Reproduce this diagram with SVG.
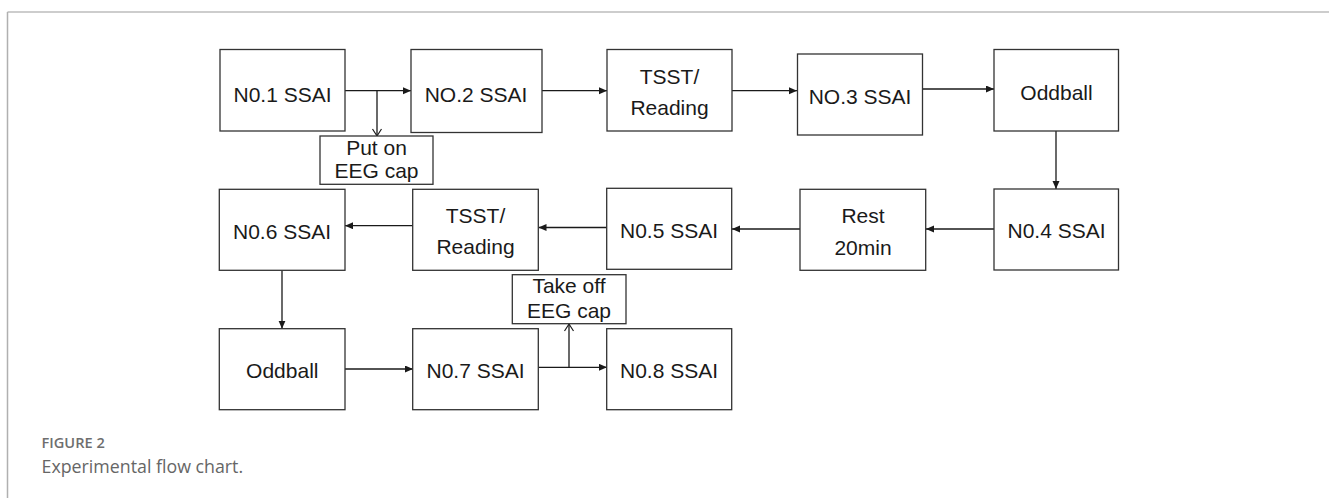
<svg xmlns="http://www.w3.org/2000/svg" width="1329" height="498" viewBox="0 0 1329 498">
<style>
.box{fill:#fff;stroke:#333;stroke-width:1.3}
.t{font-family:"Liberation Sans",Arial,sans-serif;font-size:21px;fill:#1a1a1a;text-anchor:middle}
.c{fill:none;stroke:#1a1a1a;stroke-width:1.3}
.cap1{font-family:"Open Sans",Lato,sans-serif;font-size:14.6px;font-weight:600;fill:#6e6e6e}
.cap2{font-family:"Open Sans",Lato,sans-serif;font-size:17.8px;fill:#666}
</style>
<defs>
<marker id="ah" markerUnits="userSpaceOnUse" markerWidth="9" markerHeight="8" refX="8" refY="3.5" orient="auto">
<path d="M0,0 L8,3.5 L0,7 z" fill="#1a1a1a"/>
</marker>
<marker id="ao" markerUnits="userSpaceOnUse" markerWidth="10" markerHeight="12" refX="8" refY="5" orient="auto">
<path d="M1,0.5 L8,5 L1,9.5" fill="none" stroke="#1a1a1a" stroke-width="1.2"/>
</marker>
</defs>
<rect width="1329" height="498" fill="#fff"/>
<g id="frame">
<line x1="7.5" y1="12" x2="1329" y2="12" stroke="#bcbcbc" stroke-width="1.5"/>
<line x1="7.5" y1="12" x2="7.5" y2="498" stroke="#b0b0b0" stroke-width="1.5"/>
</g>
<g id="connectors">
<line class="c" x1="345" y1="90.7" x2="411" y2="90.7" marker-end="url(#ah)"/>
<line class="c" x1="377" y1="90.7" x2="377" y2="136" marker-end="url(#ao)"/>
<line class="c" x1="542" y1="90.7" x2="607" y2="90.7" marker-end="url(#ah)"/>
<line class="c" x1="732" y1="90.7" x2="797" y2="90.7" marker-end="url(#ah)"/>
<line class="c" x1="922" y1="89" x2="994" y2="89" marker-end="url(#ah)"/>
<line class="c" x1="1056" y1="131" x2="1056" y2="189" marker-end="url(#ah)"/>
<line class="c" x1="994" y1="229" x2="926" y2="229" marker-end="url(#ah)"/>
<line class="c" x1="800" y1="229" x2="732" y2="229" marker-end="url(#ah)"/>
<line class="c" x1="607" y1="227.5" x2="538.5" y2="227.5" marker-end="url(#ah)"/>
<line class="c" x1="413" y1="225.7" x2="345" y2="225.7" marker-end="url(#ah)"/>
<line class="c" x1="282" y1="270.5" x2="282" y2="328.7" marker-end="url(#ah)"/>
<line class="c" x1="345" y1="369" x2="413" y2="369" marker-end="url(#ah)"/>
<line class="c" x1="538.5" y1="367.3" x2="607" y2="367.3" marker-end="url(#ah)"/>
<line class="c" x1="569" y1="367.3" x2="569" y2="324" marker-end="url(#ao)"/>
</g>
<g id="n1"><rect class="box" x="220" y="49.5" width="125" height="81.5"/><text class="t" x="282.5" y="102">N0.1 SSAI</text></g>
<g id="n2"><rect class="box" x="411" y="49.5" width="131" height="83"/><text class="t" x="476" y="102">NO.2 SSAI</text></g>
<g id="n3"><rect class="box" x="607" y="49.5" width="125" height="81.5"/><text class="t" x="669.5" y="84.3">TSST/</text><text class="t" x="669.5" y="115">Reading</text></g>
<g id="n4"><rect class="box" x="797.5" y="54" width="125" height="81"/><text class="t" x="860" y="104">NO.3 SSAI</text></g>
<g id="n5"><rect class="box" x="994" y="49.5" width="124.5" height="81.5"/><text class="t" x="1056.5" y="100">Oddball</text></g>
<g id="n6"><rect class="box" x="994" y="189" width="124.5" height="81"/><text class="t" x="1056.5" y="237.7">N0.4 SSAI</text></g>
<g id="n7"><rect class="box" x="800" y="189.3" width="125.7" height="81"/><text class="t" x="863" y="223.3">Rest</text><text class="t" x="863" y="255">20min</text></g>
<g id="n8"><rect class="box" x="606.7" y="188.3" width="125" height="81"/><text class="t" x="669" y="238.3">N0.5 SSAI</text></g>
<g id="n9"><rect class="box" x="412.7" y="189.3" width="125.6" height="81"/><text class="t" x="475.5" y="223.3">TSST/</text><text class="t" x="475.5" y="254">Reading</text></g>
<g id="n10"><rect class="box" x="219.3" y="189.3" width="125.7" height="81"/><text class="t" x="282" y="239">N0.6 SSAI</text></g>
<g id="n11"><rect class="box" x="219.3" y="328.7" width="125.7" height="81"/><text class="t" x="282.3" y="378.3">Oddball</text></g>
<g id="n12"><rect class="box" x="412.7" y="328.7" width="125.6" height="81"/><text class="t" x="475.5" y="378.3">N0.7 SSAI</text></g>
<g id="n13"><rect class="box" x="606.7" y="328.7" width="125" height="81"/><text class="t" x="669" y="378.3">N0.8 SSAI</text></g>
<g id="putOn"><rect class="box" x="320" y="136" width="113" height="48.3"/><text class="t" x="376.5" y="155">Put on</text><text class="t" x="376.5" y="178.3">EEG cap</text></g>
<g id="takeOff"><rect class="box" x="512.3" y="274.7" width="113.7" height="49"/><text class="t" x="569" y="293.3">Take off</text><text class="t" x="569" y="318.3">EEG cap</text></g>
<g id="caption">
<text class="cap1" x="41.5" y="448.3">FIGURE 2</text>
<text class="cap2" x="41.5" y="472.7">Experimental flow chart.</text>
</g>
</svg>
